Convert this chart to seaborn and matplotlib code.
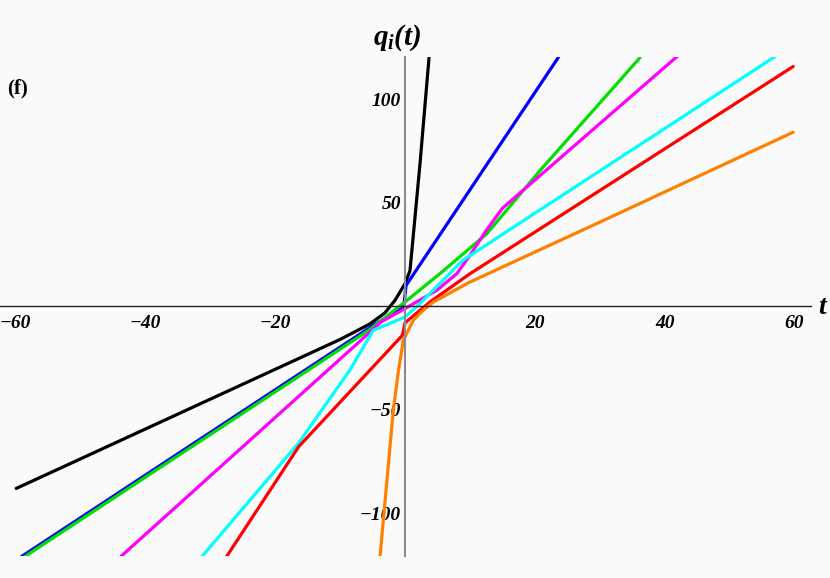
import matplotlib
matplotlib.use('Agg')
import numpy as np
import pandas as pd
import seaborn as sns
import matplotlib.pyplot as plt
from matplotlib.ticker import MultipleLocator, FixedLocator

# ---- data ----
t_black = [-59.9, -10.0, -5.4, -3.1, -1.54, 0.0, 0.77, 2.31, 3.7]
q_black = [-87.9, -16.0, -8.5, -3.2, 2.9, 10.9, 17.3, 68.8, 120.0]

t_blue = [-59.1, -4.9, -0.2, 0.15, 23.6]
q_blue = [-120.8, -9.2, -0.5, 10.0, 120.0]

t_green = [-58.6, -5.4, 0.0, 5.4, 12.6, 20.8, 36.2]
q_green = [-120.8, -11.2, 2.1, 15.8, 35.0, 65.5, 120.0]

t_magenta = [-43.8, -3.6, 0.0, 4.9, 8.0, 10.0, 12.5, 15.0, 41.9]
q_magenta = [-120.8, -7.4, -1.1, 7.7, 15.8, 24.6, 36.5, 47.3, 120.5]

t_cyan = [-31.3, -16.4, -8.5, -4.9, 0.0, 2.3, 8.9, 57.0]
q_cyan = [-120.8, -66.0, -30.8, -11.6, -5.2, 1.3, 22.2, 120.5]

t_red = [-27.5, -16.4, -0.4, 0.0, 3.85, 10.0, 59.8]
q_red = [-120.8, -67.8, -14.0, -8.0, 2.1, 15.7, 115.7]

t_orange = [-3.85, -1.8, -1.0, -0.26, 1.3, 2.8, 4.4, 10.0, 30.0, 59.8]
q_orange = [-120.8, -50.1, -30.8, -16.4, -6.7, -1.9, 2.1, 11.7, 40.6, 84.0]

x_major = [-60, -40, -20, 20, 40, 60]
y_major = [-100, -50, 50, 100]

series = [
    ("black", t_black, q_black, "#000000"),
    ("blue", t_blue, q_blue, "#0000ff"),
    ("green", t_green, q_green, "#00e000"),
    ("magenta", t_magenta, q_magenta, "#ff00ff"),
    ("cyan", t_cyan, q_cyan, "#00ffff"),
    ("red", t_red, q_red, "#ff0000"),
    ("orange", t_orange, q_orange, "#ff8000"),
]

rows = []
for name, ts, qs, _ in series:
    for i, (a, b) in enumerate(zip(ts, qs)):
        rows.append({"series": name, "t": a, "q": b, "idx": i})
df = pd.DataFrame(rows)
palette = {name: col for name, _, _, col in series}

sns.set_theme(style="white")
plt.rcParams['font.family'] = ['Liberation Serif', 'DejaVu Serif']
plt.rcParams['mathtext.fontset'] = 'custom'
plt.rcParams['mathtext.it'] = 'Liberation Serif:italic:bold'
plt.rcParams['mathtext.rm'] = 'Liberation Serif:italic:bold'
plt.rcParams['mathtext.bf'] = 'Liberation Serif:bold'

bg = "#fafafa"
fig = plt.figure(figsize=(8.3, 5.78), dpi=100, facecolor=bg)
ax = fig.add_axes([0.0, 22/578, 811/830, (556-57)/578])
ax.set_facecolor(bg)

sns.lineplot(data=df, x="t", y="q", hue="series", palette=palette,
             hue_order=[s[0] for s in series], estimator=None, sort=False,
             linewidth=2.3, legend=False, ax=ax)

ax.set_xlim(-62.4, 62.55)
ax.set_ylim(-120.5, 120.3)

for s in ['top', 'right']:
    ax.spines[s].set_visible(False)
ax.spines['left'].set_position(('data', 0))
ax.spines['bottom'].set_position(('data', 0))
ax.spines['left'].set_color('#8c8c8c')
ax.spines['left'].set_linewidth(1.5)
ax.spines['bottom'].set_color('#222222')
ax.spines['bottom'].set_linewidth(1.0)

ax.xaxis.set_major_locator(FixedLocator(x_major))
ax.xaxis.set_minor_locator(MultipleLocator(5))
ax.yaxis.set_major_locator(FixedLocator(y_major))
ax.yaxis.set_minor_locator(MultipleLocator(10))
ax.set_xticklabels([f"\u2212{abs(v)}" if v < 0 else str(v) for v in x_major])
ax.set_yticklabels([f"\u2212{abs(v)}" if v < 0 else str(v) for v in y_major])

ax.tick_params(axis='x', which='major', direction='in', length=5, width=1, color='#222222', pad=6, labelcolor='black')
ax.tick_params(axis='x', which='minor', direction='in', length=3, width=0.8, color='#444444')
ax.tick_params(axis='y', which='major', direction='in', length=5, width=1, color='#222222', pad=3, labelcolor='black')
ax.tick_params(axis='y', which='minor', direction='in', length=3, width=0.8, color='#444444')
for lab in ax.get_xticklabels() + ax.get_yticklabels():
    lab.set_fontweight('bold')
    lab.set_fontstyle('italic')
    lab.set_fontsize(14)
    lab.set_family(['Liberation Serif', 'DejaVu Serif'])
ax.set_xlabel("")
ax.set_ylabel("")

fig.text(397/830, 1-38/578, r"$q_i(t)$", ha='center', va='center', fontsize=21, color='black')
fig.text(822/830, 1-308/578, "t", ha='center', va='center', fontsize=20,
         fontweight='bold', fontstyle='italic', color='black')
fig.text(17/830, 1-88/578, "(f)", ha='center', va='center', fontsize=15,
         fontweight='bold', color='black')

fig.savefig("out.png", dpi=100, facecolor=bg)
